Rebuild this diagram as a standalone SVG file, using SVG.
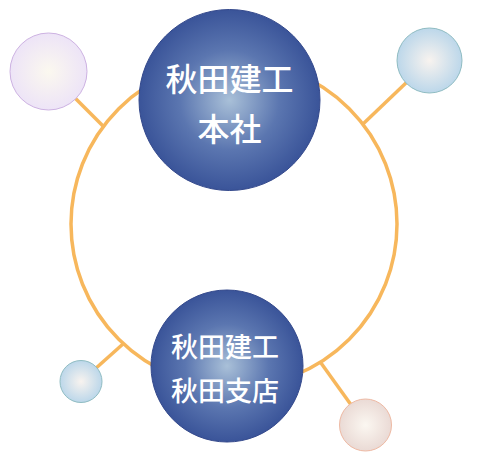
<svg xmlns="http://www.w3.org/2000/svg" width="484" height="464" viewBox="0 0 484 464">
<defs>
<radialGradient id="gMain" cx="50%" cy="50%" r="50%">
<stop offset="0" stop-color="#a9c0d8"/>
<stop offset="0.55" stop-color="#5b76b0"/>
<stop offset="1" stop-color="#3a5499"/>
</radialGradient>
<radialGradient id="gLav" cx="50%" cy="50%" r="50%">
<stop offset="0" stop-color="#fbf8ef"/>
<stop offset="1" stop-color="#ede4f7"/>
</radialGradient>
<radialGradient id="gBlue" cx="50%" cy="50%" r="50%">
<stop offset="0" stop-color="#f8f3ef"/>
<stop offset="1" stop-color="#bcd7ea"/>
</radialGradient>
<radialGradient id="gPeach" cx="50%" cy="50%" r="50%">
<stop offset="0" stop-color="#fbf7f1"/>
<stop offset="1" stop-color="#eadad5"/>
</radialGradient>
</defs>
<style>
.link{stroke:#f7b75c;stroke-width:3.5;fill:none}
.main{fill:url(#gMain);stroke:#34498c;stroke-width:1}
.lbl{fill:#ffffff;font-family:"Noto Sans CJK JP","Noto Sans",sans-serif;font-weight:500;text-anchor:middle;dominant-baseline:central}
</style>
<g id="connectors">
<circle class="link" cx="234" cy="224" r="163"/>
<line class="link" x1="48.5" y1="71.5" x2="103" y2="126"/>
<line class="link" x1="429.5" y1="60.5" x2="363" y2="124"/>
<line class="link" x1="81" y1="381.5" x2="123" y2="344"/>
<line class="link" x1="365.5" y1="425" x2="321" y2="363"/>
</g>
<g id="node-honsha">
<circle class="main" cx="229.5" cy="100" r="90.5"/>
<text class="lbl" x="229.5" y="77" font-size="32">秋田建工</text>
<text class="lbl" x="229.5" y="127" font-size="32">本社</text>
</g>
<g id="node-shiten">
<circle class="main" cx="227" cy="366" r="76"/>
<text class="lbl" x="225" y="345" font-size="27">秋田建工</text>
<text class="lbl" x="225" y="389" font-size="27">秋田支店</text>
</g>
<g id="sat-topleft">
<circle cx="48.5" cy="71.5" r="38.5" fill="url(#gLav)" stroke="#cdb2e2" stroke-width="1"/>
</g>
<g id="sat-topright">
<circle cx="429.5" cy="60.5" r="32.5" fill="url(#gBlue)" stroke="#8fbcc2" stroke-width="1"/>
</g>
<g id="sat-bottomleft">
<circle cx="81" cy="381.5" r="21" fill="url(#gBlue)" stroke="#8fbcc2" stroke-width="1"/>
</g>
<g id="sat-bottomright">
<circle cx="365.5" cy="425" r="26" fill="url(#gPeach)" stroke="#eeb9a3" stroke-width="1"/>
</g>
</svg>
